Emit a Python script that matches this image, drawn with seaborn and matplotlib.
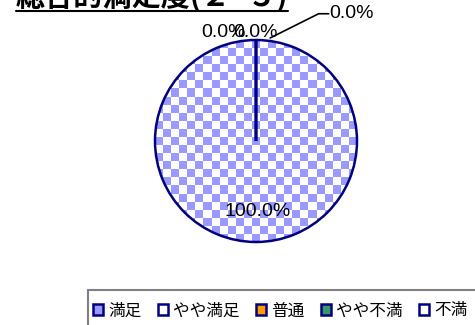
import numpy as np
import matplotlib
matplotlib.use("Agg")
import matplotlib.pyplot as plt
import seaborn as sns
from matplotlib.patches import Patch, Rectangle
from matplotlib.lines import Line2D

sns.set_style("white")
plt.rcParams['font.family'] = ['Noto Sans CJK JP', 'DejaVu Sans']
plt.rcParams['text.color'] = 'black'

title = "総合的満足度(２−５)"
categories = ["満足", "やや満足", "普通", "やや不満", "不満"]
values = [100.0, 0.0, 0.0, 0.0, 0.0]
pcts = ["100.0%", "0.0%", "0.0%", "0.0%", "0.0%"]
legend_colors = ["#9999FF", "#FFFFFF", "#FF9900", "#339966", "#FFFFFF"]

fig = plt.figure(figsize=(4.75, 3.25), dpi=100)
ax = fig.add_axes([155 / 475, 1 - 242 / 325, 202 / 475, 202 / 325])

wedges, _ = ax.pie(values, startangle=90, counterclock=False,
                   colors=["none"] * 5,
                   wedgeprops=dict(edgecolor="#000080", linewidth=1.8))
ax.set_xlim(-1, 1)
ax.set_ylim(-1, 1)
ax.set_aspect("equal")
ax.axis("off")

# checkerboard fill for the full slice
n = 25
board = (np.add.outer(np.arange(n), np.arange(n)) % 2).astype(float)
cmap = matplotlib.colors.ListedColormap(["#9999FF", "#FFFFFF"])
img = ax.imshow(board, cmap=cmap, extent=[-1, 1, -1, 1], zorder=0,
                interpolation="nearest")
img.set_clip_path(wedges[0])

# labels
lab = dict(ha="center", va="center", fontsize=14, color="black",
           family=["Liberation Sans", "DejaVu Sans"], clip_on=False)
ax.text(0.02, -0.70, pcts[0], **lab)
ax.text(-0.32, 1.07, pcts[1], **lab)
ax.text(0.0, 1.07, pcts[2], **lab)
ax.text(0.0, 1.07, pcts[3], **{**lab, "alpha": 0.0})
ax.text(0.73, 1.26, pcts[4], **{**lab, "ha": "left"})
ax.plot([0.14, 0.62, 0.72], [1.02, 1.26, 1.26], color="black", lw=1.2,
        clip_on=False)

# title (cut at the top edge), underlined
t = fig.text(152 / 475, 1 + 3 / 325, title, ha="center", va="center",
             fontsize=21, fontweight="bold", color="black")
fig.canvas.draw()
bb = t.get_window_extent().transformed(fig.transFigure.inverted())
fig.add_artist(Line2D([bb.x0, bb.x1], [1 - 11 / 325] * 2,
                      color="black", lw=1.5))

# legend box runs off the right and bottom edges
fig.add_artist(Rectangle((88 / 475, -0.05), 0.9, 1 - 290 / 325 + 0.05,
                         transform=fig.transFigure, facecolor="white",
                         edgecolor="#808080", linewidth=1.5, zorder=1))
handles = [Patch(facecolor=c, edgecolor="#000080", linewidth=1.8)
           for c in legend_colors]
leg = fig.legend(handles, categories, loc="center left",
                 bbox_to_anchor=(88 / 475, 1 - 311 / 325), ncol=5,
                 frameon=False, fontsize=12,
                 handlelength=0.6, handleheight=0.6, handletextpad=0.3,
                 columnspacing=1.0, borderpad=0.3, borderaxespad=0)
leg.set_zorder(2)
for tx in leg.get_texts():
    tx.set_color("black")

fig.savefig("out.png", dpi=100)
